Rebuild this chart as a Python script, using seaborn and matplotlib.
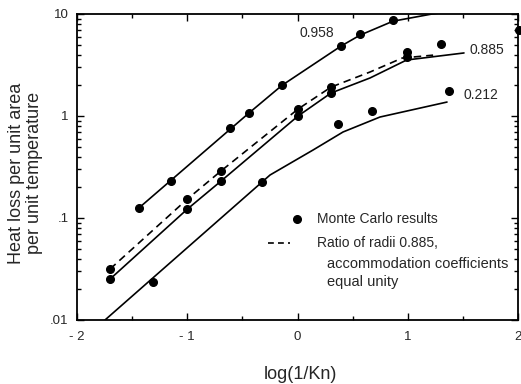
import numpy as np
import pandas as pd
import seaborn as sns
import matplotlib
matplotlib.use("Agg")
import matplotlib.pyplot as plt
from matplotlib.ticker import FixedLocator, LogLocator, NullFormatter, FixedFormatter

# ---------------- data ----------------
# Monte Carlo results, radius ratio 0.958
mc958_x = [-1.44, -1.15, -0.61, -0.44, -0.14, 0.395, 0.567, 0.866, 2.01]
mc958_y = [0.125, 0.23, 0.76, 1.07, 2.01, 4.85, 6.37, 8.73, 6.97]
# Monte Carlo results, radius ratio 0.885
mc885_x = [-1.70, -1.70, -1.00, -1.00, -0.694, -0.694, 0.005, 0.005, 0.304, 0.304, 0.993, 0.993, 1.30]
mc885_y = [0.0316, 0.0252, 0.153, 0.122, 0.289, 0.23, 1.17, 1.0, 1.92, 1.68, 4.24, 3.79, 5.08]
# Monte Carlo results, radius ratio 0.212
mc212_x = [-1.31, -0.322, 0.367, 0.676, 1.374]
mc212_y = [0.0236, 0.225, 0.836, 1.12, 1.76]

# theory curves (solid)
th958_x = [-1.44, -0.44, -0.14, 0.395, 0.567, 0.866, 1.22, 1.40]
th958_y = [0.125, 1.07, 2.0, 4.85, 6.2, 8.5, 10.0, 10.6]
th885_x = [-1.70, -1.00, -0.694, 0.005, 0.304, 0.658, 0.99, 1.51]
th885_y = [0.0252, 0.122, 0.23, 1.0, 1.68, 2.36, 3.54, 4.15]
th212_x = [-1.746, -0.249, 0.141, 0.413, 0.748, 1.356]
th212_y = [0.01, 0.264, 0.464, 0.697, 0.977, 1.37]
# dashed curve: ratio of radii 0.885, accommodation coefficients unity
unity_x = [-1.70, -1.00, -0.694, 0.005, 0.304, 0.658, 0.95, 1.23]
unity_y = [0.0316, 0.153, 0.289, 1.17, 1.92, 2.70, 3.7, 3.95]

curve_labels = ["0.958", "0.885", "0.212"]
curve_label_x = [0.172, 1.714, 1.664]
curve_label_y = [6.52, 4.44, 1.61]

x_ticks = [-2, -1, 0, 1, 2]
x_ticklabels = ["- 2", "- 1", "0", "1", "2"]
y_ticks = [0.01, 0.1, 1, 10]
y_ticklabels = [".01", ".1", "1", "10"]

# ---------------- plot ----------------
sns.set_style("ticks")
plt.rcParams['font.family'] = ['Liberation Sans', 'DejaVu Sans']

fig = plt.figure(figsize=(5.21, 3.84), dpi=100)
ax = fig.add_axes([77/521, 1-320/384, 441/521, 306/384])

lw = 1.2
for xs, ys in [(th958_x, th958_y), (th885_x, th885_y), (th212_x, th212_y)]:
    sns.lineplot(x=xs, y=ys, ax=ax, color="black", lw=lw, sort=False, estimator=None)
ax.plot(unity_x, unity_y, color="black", lw=lw, ls=(0, (4.5, 3)))

for xs, ys in [(mc958_x, mc958_y), (mc885_x, mc885_y), (mc212_x, mc212_y)]:
    ax.plot(xs, ys, ls="none", marker="o", ms=5.5, color="black", clip_on=False, zorder=5)

for t, x, y in zip(curve_labels, curve_label_x, curve_label_y):
    ax.text(x, y, t, ha="center", va="center", fontsize=10)

ax.set_yscale("log")
ax.set_xlim(-2, 2)
ax.set_ylim(0.01, 10)

ax.xaxis.set_major_locator(FixedLocator(x_ticks))
ax.xaxis.set_major_formatter(FixedFormatter(x_ticklabels))
ax.xaxis.set_minor_locator(FixedLocator([-1.5, -0.5, 0.5, 1.5]))
ax.yaxis.set_major_locator(FixedLocator(y_ticks))
ax.yaxis.set_major_formatter(FixedFormatter(y_ticklabels))
ax.yaxis.set_minor_locator(LogLocator(base=10, subs=np.arange(2, 10)))
ax.yaxis.set_minor_formatter(NullFormatter())

ax.tick_params(which="both", direction="in", top=True, right=True, color="black", width=1)
ax.tick_params(which="major", length=5)
ax.tick_params(which="minor", length=3)
ax.tick_params(axis="x", which="major", pad=8, labelsize=9.5)
ax.tick_params(axis="y", which="major", pad=6, labelsize=9.5)
for s in ax.spines.values():
    s.set_linewidth(1.3)
    s.set_color("black")

ax.set_xlabel("log(1/Kn)", fontsize=13, va="top")
ax.xaxis.set_label_coords(0.506, -0.150)
ax.set_ylabel("Heat loss per unit area\nper unit temperature", fontsize=13, linespacing=1.05)
ax.yaxis.set_label_coords(-0.077, 0.48)

# legend drawn in axes coordinates
ax.plot([0.499], [0.330], marker="o", ms=5.5, color="black", transform=ax.transAxes, ls="none")
ax.text(0.544, 0.330, "Monte Carlo results", transform=ax.transAxes, va="center", ha="left", fontsize=10)
ax.plot([0.433, 0.483], [0.252, 0.252], color="black", lw=lw, ls=(0, (3.5, 2.5)), transform=ax.transAxes)
ax.text(0.544, 0.252, "Ratio of radii 0.885,", transform=ax.transAxes,
        va="center", ha="left", fontsize=10)
ax.text(0.568, 0.183, "accommodation coefficients", transform=ax.transAxes,
        va="center", ha="left", fontsize=10.5)
ax.text(0.568, 0.124, "equal unity", transform=ax.transAxes,
        va="center", ha="left", fontsize=10.5)

fig.savefig("out.png", dpi=100)
